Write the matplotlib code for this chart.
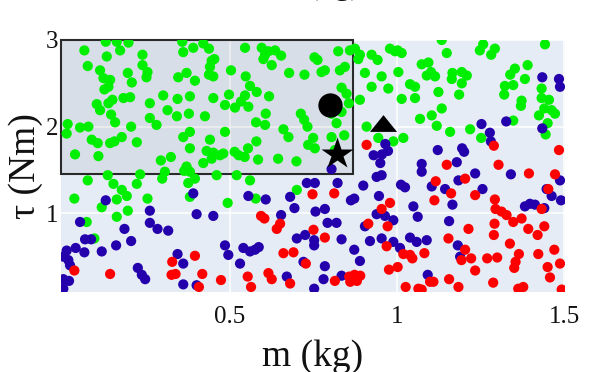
import matplotlib
matplotlib.use("Agg")
import matplotlib.pyplot as plt
from matplotlib.patches import Rectangle

# ---------------- data ----------------
green_x = [0.128,0.161,0.196,0.064,0.171,0.131,0.238,0.074,0.238,0.253,0.250,0.111,0.194,0.121,0.141,0.136,0.124,0.206,
           0.101,0.111,0.136,0.148,0.181,0.201,0.144,0.156,0.204,0.014,0.011,0.051,0.076,0.086,0.104,0.141,0.154,0.176,
           0.221,0.036,0.106,0.260,0.300,0.343,0.380,0.313,0.341,0.377,0.425,0.260,0.280,0.360,0.380,0.380,0.440,0.430,
           0.450,0.470,0.445,0.480,0.420,0.293,0.323,0.357,0.390,0.420,0.437,0.360,0.445,0.453,0.440,0.437,0.450,0.370,
           0.345,0.395,0.450,0.485,0.485,
           0.545,0.595,0.605,0.615,0.635,0.653,0.600,0.625,0.503,0.547,0.560,0.580,0.545,0.533,0.497,0.515,0.555,0.617,
           0.607,0.605,0.578,0.677,0.723,0.753,0.762,0.774,0.784,0.824,0.829,0.844,0.859,0.874,0.834,0.849,0.856,0.889,
           0.884,0.889,0.924,0.942,0.979,0.994,0.904,0.954,0.924,0.974,0.712,0.722,0.732,0.804,0.819,0.834,0.660,0.675,
           0.554,0.579,0.514,0.526,0.544,0.584,0.644,0.699,0.734,0.749,0.754,0.804,0.842,0.814,0.909,0.944,0.989,
           1.134,1.002,1.014,1.149,1.258,1.248,1.282,1.293,1.443,1.074,1.094,1.102,1.089,1.114,1.004,1.166,1.164,1.194,
           1.209,1.194,1.039,1.054,1.014,1.054,1.124,1.186,1.134,1.104,1.069,1.119,1.159,1.219,1.252,1.019,1.339,1.353,
           1.391,1.323,1.348,1.383,1.321,1.373,1.371,1.433,1.433,1.455,1.441,1.463,1.473,1.425,1.451,1.445,1.348,
           0.370,0.363,0.380,0.395,0.375,0.460,0.305,0.297,0.231,0.221,0.134,0.074,0.151,0.176,0.191,0.161,0.034,0.253,
           0.116,0.194,0.161,0.071,0.094,0.380,0.493,
           0.520,0.560,0.577,0.700]
green_y = [2.98,2.98,2.97,2.88,2.88,2.81,2.83,2.70,2.71,2.63,2.57,2.65,2.62,2.56,2.54,2.46,2.43,2.51,
           2.26,2.19,2.27,2.31,2.33,2.34,2.14,2.05,2.00,2.03,1.92,1.99,2.00,1.85,1.81,1.81,1.83,1.88,
           1.82,1.68,1.66,2.27,2.36,2.32,2.35,2.19,2.12,2.15,2.12,2.10,2.02,1.88,1.94,1.75,1.85,1.72,
           1.70,1.67,1.63,1.69,1.58,1.61,1.65,2.98,2.91,2.96,2.90,2.86,2.76,2.78,2.69,2.60,2.58,2.62,
           2.57,2.53,2.33,2.25,1.94,
           2.91,2.91,2.83,2.87,2.88,2.82,2.78,2.71,2.65,2.58,2.47,2.40,2.36,2.29,2.37,2.22,2.23,2.35,
           2.15,2.02,2.05,2.62,2.60,2.80,2.77,2.63,2.65,2.87,2.65,2.69,2.88,2.90,2.45,2.38,2.27,2.31,
           2.78,2.83,2.83,2.77,2.90,2.87,2.62,2.58,2.46,2.44,2.15,2.08,2.00,2.15,2.04,2.17,1.97,1.88,
           1.75,1.83,1.71,1.67,1.65,1.62,1.63,1.60,1.79,1.87,1.75,1.88,1.90,1.73,2.00,1.87,1.83,
           3.00,2.88,2.85,2.85,2.95,2.88,2.83,2.90,2.95,2.72,2.74,2.63,2.59,2.58,2.63,2.62,2.55,2.63,
           2.59,2.50,2.49,2.46,2.32,2.33,2.40,2.37,2.21,2.13,2.09,2.01,1.94,1.97,1.87,1.87,2.60,2.67,
           2.71,2.47,2.48,2.55,2.37,2.30,2.24,2.44,2.33,2.31,2.21,2.19,2.15,2.13,2.04,1.91,2.07,
           1.54,1.49,1.48,1.40,1.35,1.44,1.48,1.40,1.45,1.34,1.44,1.38,1.34,1.27,1.20,1.16,1.17,1.17,
           1.07,1.03,0.96,0.90,0.71,1.19,1.12,
           1.44,1.38,1.17,1.27]

blue_x = [0.965,0.973,0.930,0.955,0.950,
          1.435,1.485,1.488,1.253,1.278,1.281,1.327,1.435,1.122,1.195,1.201,1.074,1.179,
          0.128,0.390,0.260,0.400,0.450,0.051,0.260,0.283,0.315,0.184,0.204,0.159,0.066,0.084,0.038,0.011,0.064,0.116,
          0.001,0.016,0.021,0.485,0.495,0.343,0.360,0.224,0.236,0.246,0.001,0.018,0.001,0.360,0.400,
          0.804,0.954,0.939,0.730,0.754,0.822,0.899,0.555,0.607,0.680,0.693,0.862,0.872,0.946,0.756,0.784,0.653,0.792,
          0.819,0.904,0.939,0.964,0.989,0.700,0.725,0.752,0.752,0.834,0.919,0.954,0.989,0.540,0.560,0.575,0.586,0.530,
          0.872,0.889,0.720,0.784,0.670,0.780,0.834,0.752,
          1.074,1.012,1.024,1.104,1.144,1.184,1.234,1.256,1.341,1.166,1.049,1.062,1.156,1.383,1.398,1.413,1.441,1.448,
          1.463,1.488,1.491,1.039,1.059,1.089,1.009,1.182,1.189,1.092]
blue_y = [1.80,1.72,1.67,1.68,1.58,
          2.57,2.55,2.46,2.03,1.93,1.83,2.06,1.98,1.73,1.75,1.71,1.57,1.59,
          1.15,1.23,1.03,0.99,0.97,0.90,0.89,0.82,0.80,0.82,0.68,0.63,0.70,0.70,0.60,0.57,0.55,0.56,
          0.50,0.46,0.40,0.63,0.52,0.53,0.42,0.37,0.29,0.24,0.24,0.22,0.13,0.18,0.17,
          1.51,1.44,1.42,1.35,1.35,1.35,1.32,1.20,1.16,1.19,1.06,1.15,1.17,1.20,1.02,1.05,0.98,0.89,
          0.89,0.85,0.99,0.97,0.92,0.71,0.75,0.69,0.63,0.70,0.68,0.71,0.67,0.60,0.56,0.58,0.61,0.42,
          0.58,0.45,0.44,0.39,0.27,0.24,0.28,0.13,
          1.48,1.33,1.30,1.31,1.28,1.38,1.46,1.28,1.45,1.10,1.08,0.96,0.91,1.08,1.11,1.10,1.06,1.28,
          1.20,1.38,1.15,0.72,0.67,0.69,0.60,0.63,0.50,0.29]

red_x = [0.909,
         1.290,1.485,1.149,1.304,
         0.034,0.141,0.327,0.395,0.325,0.337,0.417,0.407,0.473,
         0.747,0.812,0.593,0.603,0.650,0.640,0.750,0.784,0.914,0.954,0.979,0.972,0.969,0.660,0.690,0.727,0.553,0.563,
         0.615,0.625,0.680,0.814,0.857,0.873,0.890,0.860,0.880,0.976,
         1.204,1.116,1.162,1.112,1.234,1.293,1.295,1.313,1.328,1.348,1.373,1.433,1.453,1.473,1.395,1.292,1.214,1.154,
         1.290,1.393,1.421,1.441,1.338,1.204,1.222,1.193,1.270,1.300,1.365,1.423,1.471,1.355,1.351,1.234,1.019,1.039,
         1.046,1.082,1.002,1.451,1.458,1.488,1.156,1.099,1.109,1.026,1.064,1.074,1.184,1.288,1.363,1.378,1.493]
red_y = [1.79,
         1.78,1.73,1.56,1.56,
         0.34,0.30,0.44,0.51,0.29,0.30,0.30,0.15,0.23,
         1.22,1.23,0.97,0.94,0.88,0.82,0.81,0.72,0.88,1.05,1.12,0.85,0.62,0.54,0.55,0.42,0.27,0.15,
         0.31,0.24,0.19,0.22,0.27,0.29,0.28,0.21,0.22,0.35,
         1.40,1.37,1.23,1.15,1.21,1.16,1.05,1.02,0.98,0.90,0.94,1.05,1.28,1.45,1.46,0.88,0.82,0.71,
         0.75,0.82,0.75,0.85,0.65,0.58,0.48,0.46,0.48,0.49,0.53,0.53,0.58,0.44,0.37,0.34,0.53,0.52,
         0.48,0.54,0.38,0.38,0.26,0.42,0.24,0.21,0.21,0.15,0.13,0.12,0.15,0.20,0.13,0.15,0.12]

circle_pt = (0.798, 2.255)
triangle_pt = (0.959, 2.04)
star_pt = (0.819, 1.68)
region_x = (-0.006, 0.869)
region_y = (1.453, 3.0)

x_ticks = [0.5, 1.0, 1.5]
x_ticklabels = ["0.5", "1", "1.5"]
y_ticks = [1, 2, 3]
y_ticklabels = ["1", "2", "3"]

# ---------------- figure ----------------
plt.rcParams['font.family'] = ['Liberation Serif', 'DejaVu Serif']
fig = plt.figure(figsize=(5.98, 3.72), dpi=100)
ax = fig.add_axes([61/598, 1 - 292/372, (565-61)/598, (292-40)/372])
ax.set_facecolor('#e5ecf6')
ax.set_xlim(-0.006, 1.503)
ax.set_ylim(0.092, 3.0)
for s in ax.spines.values():
    s.set_visible(False)
ax.grid(True, color='white', lw=1.1, zorder=0)
ax.set_axisbelow(True)

ax.add_patch(Rectangle((region_x[0], region_y[0]), region_x[1]-region_x[0], region_y[1]-region_y[0],
                       facecolor='#808080', alpha=0.12, edgecolor='none', zorder=1))
ax.add_patch(Rectangle((region_x[0], region_y[0]), region_x[1]-region_x[0], region_y[1]-region_y[0],
                       facecolor='none', edgecolor='#2a2a2a', lw=1.5, zorder=1.5, clip_on=False))

ms = 54
ax.scatter(green_x, green_y, s=ms, c='#00ee00', edgecolors='none', zorder=2)
ax.scatter(blue_x, blue_y, s=ms, c='#2400ad', edgecolors='none', zorder=3)
ax.scatter(red_x, red_y, s=ms, c='#ff0000', edgecolors='none', zorder=4)

ax.plot([circle_pt[0]], [circle_pt[1]], 'o', color='black', ms=17.5, mec='none', zorder=6)
tri = [(-1, -0.62), (1, -0.62), (0, 0.62)]
ax.plot([triangle_pt[0]], [triangle_pt[1]], marker=tri, color='black', ms=19.5, mec='none', ls='none', zorder=6)
ax.plot([star_pt[0]], [star_pt[1]], marker='*', color='black', ms=24, mec='none', ls='none', zorder=6, clip_on=False)

ax.set_xticks(x_ticks)
ax.set_xticklabels(x_ticklabels)
ax.set_yticks(y_ticks)
ax.set_yticklabels(y_ticklabels)
ax.tick_params(axis='both', length=0, labelsize=18, colors='#111111')
ax.tick_params(axis='x', pad=10)
ax.tick_params(axis='y', pad=2)

ax.set_xlabel('m (kg)', fontsize=27, labelpad=8, color='#111111')
ax.set_ylabel('τ (Nm)', fontsize=27, labelpad=2, color='#111111')

fig.text(318/598, 1 + 6/372, 'm (kg)', fontsize=23, ha='center', va='baseline', color='#111111')

fig.savefig('out.png', dpi=100)
